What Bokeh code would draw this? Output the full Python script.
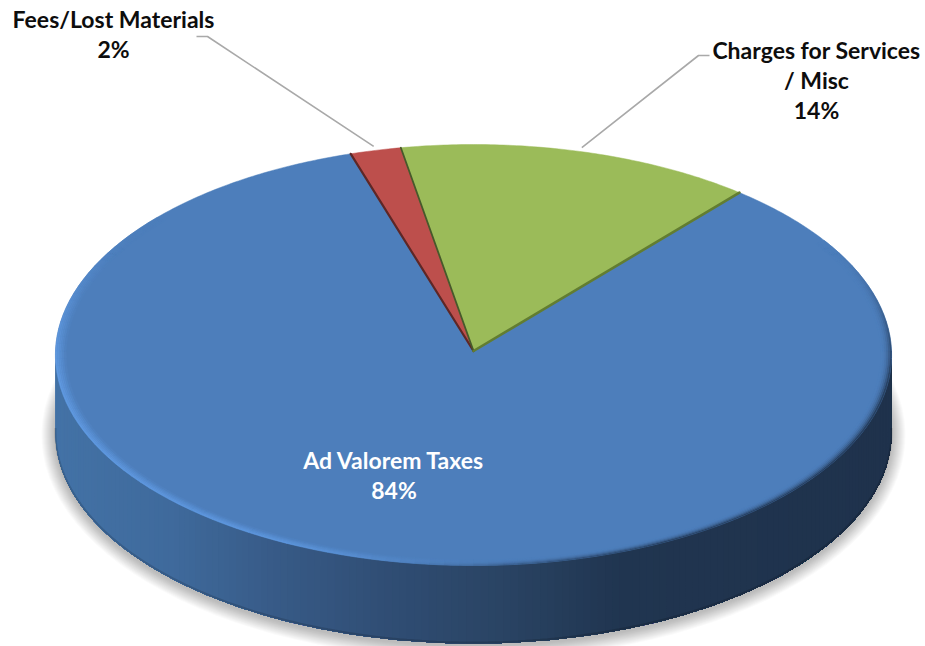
import math

from bokeh.core.properties import value
from bokeh.embed import file_html
from bokeh.models import ColumnDataSource, Range1d
from bokeh.plotting import figure
from bokeh.resources import INLINE

# Chart content
categories = ["Ad Valorem Taxes", "Fees/Lost Materials", "Charges for Services / Misc"]
shares = [84, 2, 14]
label_lines = [
    ["Ad Valorem Taxes", "84%"],
    ["Fees/Lost Materials", "2%"],
    ["Charges for Services", "/ Misc", "14%"],
]

# Styling and layout of the disc
slice_colors = ["#4d7ebb", "#bd4f4c", "#9bbb59"]
label_colors = ["#ffffff", "#0d0d0d", "#0d0d0d"]
label_centers = [(393.5, 459.5), (113, 18.5), (816, 49.5)]
line_step = 29.8
WIDTH, HEIGHT = 925, 646
CX, CY = 473.0, 350.5
RX, RY = 418.0, 210.4
TILT = 0.019
DEPTH = 78.0
FIRST_ANGLE = 40.2


def rim(theta, s=1.0):
    """Screen position on the disc top; theta is clockwise from the far side."""
    t = math.radians(theta)
    w = 1 + TILT * s * math.cos(t)
    return CX + RX * s * math.sin(t) / w, CY - RY * s * math.cos(t) / w


def mix(a, b, f):
    ca = [int(a[i:i + 2], 16) for i in (1, 3, 5)]
    cb = [int(b[i:i + 2], 16) for i in (1, 3, 5)]
    return "#%02x%02x%02x" % tuple(round(x + (y - x) * f) for x, y in zip(ca, cb))


def ramp(stops, x):
    if x <= stops[0][0]:
        return stops[0][1]
    for (x0, c0), (x1, c1) in zip(stops, stops[1:]):
        if x <= x1:
            return mix(c0, c1, (x - x0) / (x1 - x0))
    return stops[-1][1]


def smooth(e0, e1, x):
    f = max(0.0, min(1.0, (x - e0) / (e1 - e0)))
    return f * f * (3 - 2 * f)


p = figure(
    width=WIDTH, height=HEIGHT, output_backend="svg", toolbar_location=None,
    x_range=Range1d(0, WIDTH), y_range=Range1d(HEIGHT, 0),
    min_border=0, outline_line_color=None, background_fill_color="#ffffff",
    border_fill_color="#ffffff",
)
p.axis.visible = False
p.grid.visible = False

# Soft drop shadow: stacked translucent ellipses under the wall
for i in range(14):
    grow = 14 - i
    xs, ys = [], []
    for a in range(0, 360, 3):
        x, y = rim(a)
        xs.append(CX + (x - CX) * (RX + grow) / RX)
        ys.append(CY + DEPTH + 2 + (y - CY) * (RY + grow) / RY)
    p.patch(xs, ys, fill_color="#000000", fill_alpha=0.02, line_color=None)

# Cylinder wall: each step repaints everything to its right, so no seams show
wall_stops = [(55, "#4372a6"), (170, "#3f6a9c"), (280, "#375a86"),
              (400, "#2f4c72"), (500, "#2a4464"), (620, "#203550"), (891, "#1f324c")]
for a in range(270, 90, -1):
    top = [rim(b) for b in range(a, 89, -1)]
    xs = [q[0] for q in top] + [q[0] for q in reversed(top)]
    ys = [q[1] for q in top] + [q[1] + DEPTH for q in reversed(top)]
    p.patch(xs, ys, fill_color=ramp(wall_stops, rim(a - 0.5)[0]), line_color=None)

# Slightly darker foot along the lower edge of the wall
foot = [rim(b) for b in range(90, 271)]
p.line([q[0] for q in foot], [q[1] + DEPTH - 1 for q in foot],
       line_color="#000000", line_alpha=0.14, line_width=2)

# Disc top: one wedge per share, clockwise from FIRST_ANGLE
bounds = []
angle = FIRST_ANGLE
for share, color in zip(shares, slice_colors):
    end = angle + share * 3.6
    steps = max(4, int(share * 6))
    arc = [rim(angle + (end - angle) * i / steps) for i in range(steps + 1)]
    p.patch([CX] + [q[0] for q in arc], [CY] + [q[1] for q in arc],
            fill_color=color, line_color=color, line_width=0.5)
    bounds.append((angle, end))
    angle = end

# Bevel round the near rim: bright on the left, dark on the right
base = slice_colors[0]
rings = 6
band = 0.026
bx, by, bc = [], [], []
for r in range(rings):
    s0 = 1 - band * r / rings
    s1 = 1 - band * (r + 1) / rings
    tm = (r + 0.5) / rings
    for a in range(58, 312, 2):
        m = a + 1
        light = smooth(165, 215, m) * (1 - smooth(262, 310, m))
        dark = smooth(58, 105, m) * (1 - smooth(150, 200, m))
        if light <= 0 and dark <= 0:
            continue
        col = base
        if light > 0:
            col = mix(col, "#64a0ea", light * (1 - tm) ** 0.8 * 0.85)
        if dark > 0:
            col = mix(col, "#1f324c", dark * (1 - tm) ** 2.2)
        q = [rim(a, s0), rim(a + 2, s0), rim(a + 2, s1), rim(a, s1)]
        bx.append([c[0] for c in q])
        by.append([c[1] for c in q])
        bc.append(col)
p.patches(source=ColumnDataSource(dict(xs=bx, ys=by, c=bc)), xs="xs", ys="ys",
          fill_color="c", line_color="c", line_width=0.4)

# Darker cut faces along the wedge edges
edge_styles = [(bounds[1][0], "#5e2726", 2.2), (bounds[2][0], "#47592b", 1.8),
               (bounds[2][1], "#627d31", 2.6)]
for a, color, width in edge_styles:
    x, y = rim(a)
    p.line([CX, x], [CY, y], line_color=color, line_width=width, line_cap="round")

# Leader lines from the two small slices to their labels
leader_elbows = [None, [(196, 36), (207, 36)], [(709, 55), (698, 55)]]
for (start, end), elbow in zip(bounds, leader_elbows):
    if elbow is None:
        continue
    tip = rim((start + end) / 2, 1.02)
    pts = elbow + [tip]
    p.line([q[0] for q in pts], [q[1] for q in pts], line_color="#a9a9a9", line_width=1.6)

# Data labels
tx, ty, tt, tc = [], [], [], []
for lines, (lx, ly), color in zip(label_lines, label_centers, label_colors):
    for i, line in enumerate(lines):
        tx.append(lx)
        ty.append(ly + i * line_step)
        tt.append(line)
        tc.append(color)
p.text(source=ColumnDataSource(dict(x=tx, y=ty, t=tt, c=tc)), x="x", y="y", text="t",
       text_color="c", text_font=value("Lato"), text_font_style="bold",
       text_font_size="23px", text_align="center", text_baseline="middle")

open("out.html", "w").write(file_html(p, INLINE))
